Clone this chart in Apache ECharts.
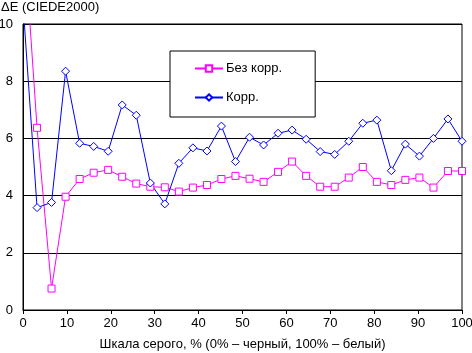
<!DOCTYPE html>
<html>
<head>
<meta charset="utf-8">
<script src="https://cdn.jsdelivr.net/npm/echarts@6/dist/echarts.min.js"></script>
<style>
  html, body { margin: 0; padding: 0; background: #fff; }
  #chart { width: 472px; height: 353px; }
</style>
</head>
<body>
<div id="chart"></div>
<script>
// grey level, %
const greyLevels = [0, 3.2, 6.5, 9.7, 12.9, 16.1, 19.4, 22.6, 25.8, 29.0, 32.3, 35.5, 38.7, 41.9, 45.2, 48.4,
    51.6, 54.8, 58.1, 61.3, 64.5, 67.7, 71.0, 74.2, 77.4, 80.6, 83.9, 87.1, 90.3, 93.5, 96.8, 100]

// dE without correction
const noCorr = [13.6, 6.37, 0.75, 3.96, 4.58, 4.80, 4.90, 4.66, 4.42, 4.31, 4.29, 4.14, 4.28, 4.37, 4.58, 4.69,
    4.59, 4.48, 4.83, 5.19, 4.69, 4.31, 4.31, 4.63, 5.00, 4.48, 4.37, 4.55, 4.63, 4.28, 4.86, 4.86]

// dE with correction
const withCorr = [10.7, 3.58, 3.76, 8.35, 5.83, 5.72, 5.55, 7.17, 6.81, 4.44, 3.71, 5.13, 5.67, 5.56, 6.43, 5.19,
    6.04, 5.77, 6.18, 6.29, 5.97, 5.54, 5.44, 5.90, 6.53, 6.64, 4.87, 5.80, 5.38, 6.00, 6.68, 5.90]

const seriesNames = ['Без корр.', 'Корр.']
const xTicks = { min: 0, max: 100, interval: 10 }
const yTicks = { min: 0, max: 10, interval: 2 }

const font = 'Arial, "Liberation Sans", sans-serif'

const toPoints = values => values.map((v, i) => [greyLevels[i], v])

const makeSeries = (name, values, color, symbol, size) => ({
    name,
    type: 'line',
    data: toPoints(values),
    clip: true,
    symbol,
    symbolSize: size,
    showAllSymbol: true,
    lineStyle: { color, width: 1 },
    itemStyle: { color: '#fff', borderColor: color, borderWidth: 1 },
    emphasis: { disabled: true }
})

const chart = echarts.init(document.getElementById('chart'))
chart.setOption({
    animation: false,
    textStyle: { fontFamily: font },
    title: {
        text: 'ΔE (CIEDE2000)',
        left: -4,
        top: -4,
        textStyle: { fontFamily: font, fontSize: 13, fontWeight: 'normal', color: '#000' }
    },
    legend: {
        orient: 'vertical',
        left: 170,
        top: 51,
        padding: [11, 33, 13, 24],
        itemGap: 16,
        itemWidth: 28,
        itemHeight: 8,
        backgroundColor: '#fff',
        borderColor: '#000',
        borderWidth: 1,
        borderRadius: 0,
        selectedMode: false,
        textStyle: { fontFamily: font, fontSize: 13, color: '#000', padding: [0, 0, 0, -2] },
        data: seriesNames
    },
    grid: {
        left: 23,
        right: 10,
        top: 24,
        bottom: 43,
        outerBoundsMode: 'none',
        show: true,
        borderColor: '#000',
        borderWidth: 1
    },
    xAxis: {
        type: 'value',
        min: xTicks.min,
        max: xTicks.max,
        interval: xTicks.interval,
        name: 'Шкала серого, % (0% – черный, 100% – белый)',
        nameLocation: 'middle',
        nameGap: 28,
        nameTextStyle: { fontFamily: font, fontSize: 13, color: '#000' },
        axisLine: { lineStyle: { color: '#000', width: 1 } },
        axisTick: { show: true, length: 4, lineStyle: { color: '#000' } },
        axisLabel: { fontFamily: font, fontSize: 13, color: '#000', margin: 7 },
        splitLine: { show: false }
    },
    yAxis: {
        type: 'value',
        min: yTicks.min,
        max: yTicks.max,
        interval: yTicks.interval,
        axisLine: { show: true, lineStyle: { color: '#000', width: 1 } },
        axisTick: { show: false },
        axisLabel: { fontFamily: font, fontSize: 13, color: '#000', margin: 10 },
        splitLine: { show: true, lineStyle: { color: '#000', width: 1 } }
    },
    series: [
        makeSeries(seriesNames[0], noCorr, '#FF00FF', 'rect', 7),
        makeSeries(seriesNames[1], withCorr, '#0000FF', 'diamond', 8)
    ]
})
</script>
</body>
</html>
